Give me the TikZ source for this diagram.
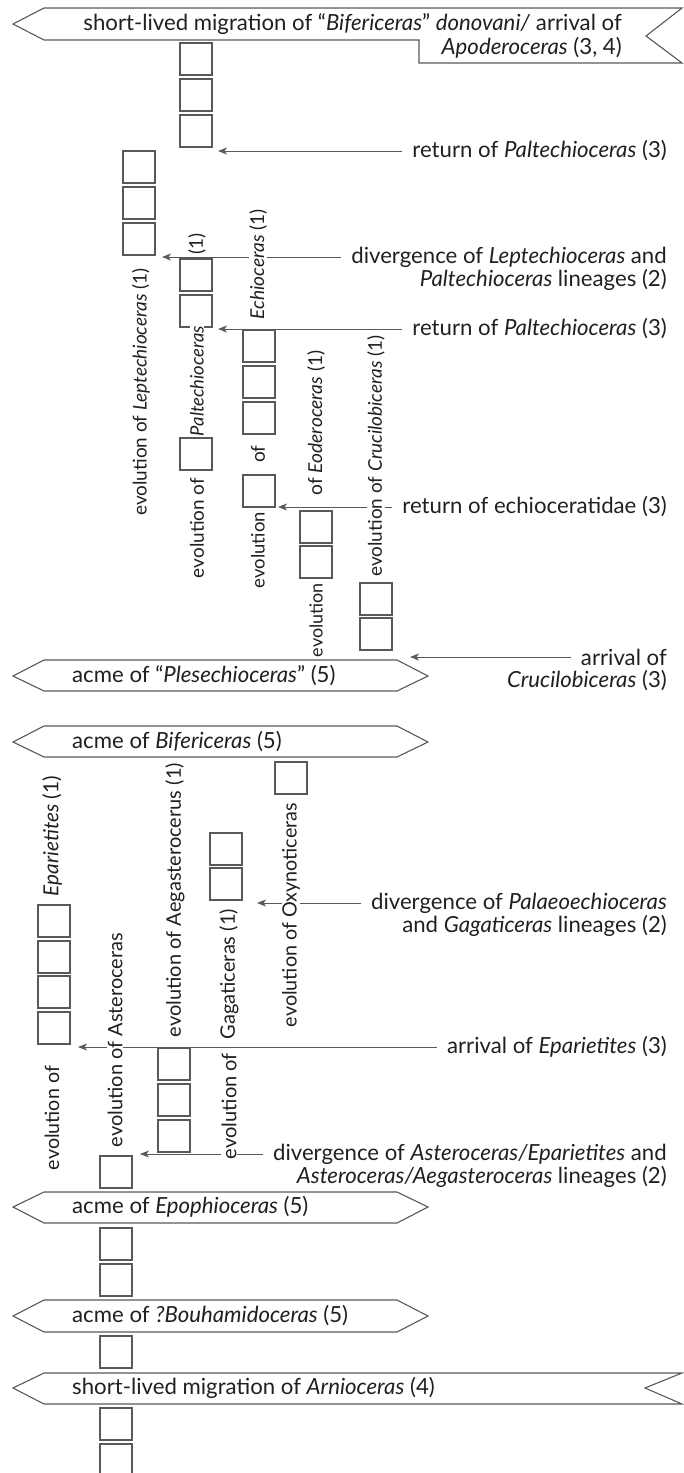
\documentclass[tikz,border=0pt]{standalone}
\usepackage{fontspec}
\setmainfont{Lato}
\usetikzlibrary{arrows.meta,calc}
\definecolor{lc}{HTML}{595959}
\definecolor{tc}{HTML}{231F20}
\newcommand\Bx[3]{\node[bx] (#1) at (#2,#3) {};}
\newcommand\RotLab[5]{\node[lab] (#1) at (#2,#3) {\resizebox{#4pt}{!}{#5}};}
\begin{document}
\begin{tikzpicture}[x=1pt,y=-1pt,
  font=\fontsize{22.2}{24}\selectfont,
  bx/.style={draw=lc, line width=1.1pt, minimum width=32pt, minimum height=32pt, inner sep=0pt, outer sep=0pt, anchor=north west},
  lab/.style={rotate=90, fill=white, inner xsep=1pt, inner ysep=0.5pt, text=tc, font=\fontsize{19}{20}\selectfont},
  rt/.style={anchor=east, inner sep=0pt, text=tc},
  bt/.style={anchor=west, inner sep=0pt, text=tc},
  ban/.style={draw=lc, line width=1.1pt, fill=white},
  arr/.style={draw=lc, line width=1pt, -{Stealth[length=9pt,width=7pt,inset=2.5pt]}}
]
\useasboundingbox (0,0) rectangle (684,1473);

% ---------------- top banner
\draw[ban] (44,8) -- (682,8) -- (646,36) -- (682,63) -- (419,63) -- (419,40) -- (44,40) -- (13,24) -- cycle;
\node[rt] (topA) at (622,24) {short-lived migration of “\textit{Bifericeras}” \textit{donovani/} arrival of};
\node[rt] (topB) at (622,48) {\textit{Apoderoceras} (3, 4)};

% ---------------- boxes upper
\Bx{a1}{180}{43}\Bx{a2}{180}{79}\Bx{a3}{180}{115}
\Bx{b1}{123}{151}\Bx{b2}{123}{187}\Bx{b3}{123}{223}
\Bx{c1}{180}{259}\Bx{c2}{180}{295}\Bx{c3}{180}{438}
\Bx{d1}{243}{330}\Bx{d2}{243}{366}\Bx{d3}{243}{402}\Bx{d4}{243}{475}
\Bx{e1}{300}{511}\Bx{e2}{300}{546}
\Bx{f1}{360}{583}\Bx{f2}{360}{618}

% ---------------- right texts upper
\node[rt] (r1) at (667,151) {return of \textit{Paltechioceras} (3)};
\node[rt] (dv1) at (667,257) {divergence of \textit{Leptechioceras} and};
\node[rt] (dv1b) at (667,280) {\textit{Paltechioceras} lineages (2)};
\node[rt] (r2) at (667,329) {return of \textit{Paltechioceras} (3)};
\node[rt] (r3) at (667,507) {return of echioceratidae (3)};
\node[rt] (ar1) at (667,657) {arrival of};
\node[rt] (ar1b) at (667,681) {\textit{Crucilobiceras} (3)};

\coordinate (r1t) at (218,151);
\coordinate (dv1t) at (162,257);
\coordinate (r2t) at (218,329);
\coordinate (r3t) at (278,507);
\coordinate (ar1t) at (410,657);

\draw[arr] ([xshift=-10pt]r1.west) -- (r1t);
\draw[arr] ([xshift=-10pt]dv1.west) -- (dv1t);
\draw[arr] ([xshift=-10pt]r2.west) -- (r2t);
\draw[arr] ([xshift=-10pt]r3.west) -- (r3t);
\draw[arr] ([xshift=-10pt]ar1.west) -- (ar1t);

% ---------------- rotated labels upper
\RotLab{lb}{141}{392}{247}{evolution of \textit{Leptechioceras} (1)}
\node[lab] (lc1) at (197,244) {(1)};
\RotLab{lc2}{197}{381}{110}{\textit{Paltechioceras}}
\RotLab{lc3}{197}{528}{100}{evolution of}
\RotLab{ld1}{258}{264}{110}{\textit{Echioceras} (1)}
\node[lab] (ld2) at (258,454) {of};
\RotLab{ld3}{258}{550}{76}{evolution}
\RotLab{le1}{316}{423}{145}{of \textit{Eoderoceras} (1)}
\RotLab{le2}{316}{620}{74}{evolution}
\RotLab{lf}{376}{456}{241}{evolution of \textit{Crucilobiceras} (1)}

% ---------------- middle banners
\draw[ban] (44,660) -- (397,660) -- (428,676) -- (397,691) -- (44,691) -- (13,676) -- cycle;
\node[bt] (bP) at (72,676) {acme of “\textit{Plesechioceras}” (5)};
\draw[ban] (44,726) -- (397,726) -- (428,742) -- (397,757) -- (44,757) -- (13,742) -- cycle;
\node[bt] (bB) at (72,742) {acme of \textit{Bifericeras} (5)};

% ---------------- boxes lower
\Bx{g1}{275}{762}
\Bx{h1}{210}{833}\Bx{h2}{210}{868}
\Bx{j1}{38}{905}\Bx{j2}{38}{941}\Bx{j3}{38}{976}\Bx{j4}{38}{1012}
\Bx{i1}{158}{1048}\Bx{i2}{158}{1084}\Bx{i3}{158}{1120}
\Bx{k1}{100}{1156}\Bx{k2}{100}{1228}\Bx{k3}{100}{1264}\Bx{k4}{100}{1336}\Bx{k5}{100}{1408}\Bx{k6}{100}{1444}

% ---------------- right texts lower
\node[rt] (dv2) at (667,903) {divergence of \textit{Palaeoechioceras}};
\node[rt] (dv2b) at (667,926) {and \textit{Gagaticeras} lineages (2)};
\node[rt] (ar2) at (667,1047) {arrival of \textit{Eparietites} (3)};
\node[rt] (dv3) at (667,1154) {divergence of \textit{Asteroceras/Eparietites} and};
\node[rt] (dv3b) at (667,1177) {\textit{Asteroceras/Aegasteroceras} lineages (2)};

\coordinate (dv2t) at (257,903);
\coordinate (ar2t) at (78,1047);
\coordinate (dv3t) at (140,1154);

\draw[arr] ([xshift=-10pt]dv2.west) -- (dv2t);
\draw[arr] ([xshift=-10pt]ar2.west) -- (ar2t);
\draw[arr] ([xshift=-10pt]dv3.west) -- (dv3t);

% ---------------- rotated labels lower
\RotLab{lg}{291}{915}{224}{evolution of Oxynoticeras}
\RotLab{lh1}{229}{974}{130}{Gagaticeras (1)}
\RotLab{lh2}{229}{1106}{106}{evolution of}
\RotLab{li}{175}{900}{274}{evolution of Aegasterocerus (1)}
\RotLab{lj1}{52}{836}{120}{\textit{Eparietites} (1)}
\RotLab{lj2}{52}{1118}{104}{evolution of}
\RotLab{lk}{115}{1040}{214}{evolution of Asteroceras}

% ---------------- bottom banners
\draw[ban] (44,1192) -- (397,1192) -- (428,1207) -- (397,1223) -- (44,1223) -- (13,1207) -- cycle;
\node[bt] (bE) at (72,1207) {acme of \textit{Epophioceras} (5)};
\draw[ban] (44,1300) -- (397,1300) -- (428,1316) -- (397,1332) -- (44,1332) -- (13,1316) -- cycle;
\node[bt] (bH) at (72,1316) {acme of \textit{?Bouhamidoceras} (5)};
\draw[ban] (44,1373) -- (682,1373) -- (645,1388) -- (682,1404) -- (44,1404) -- (13,1388) -- cycle;
\node[bt] (bA) at (72,1388) {short-lived migration of \textit{Arnioceras} (4)};
\end{tikzpicture}
\end{document}
